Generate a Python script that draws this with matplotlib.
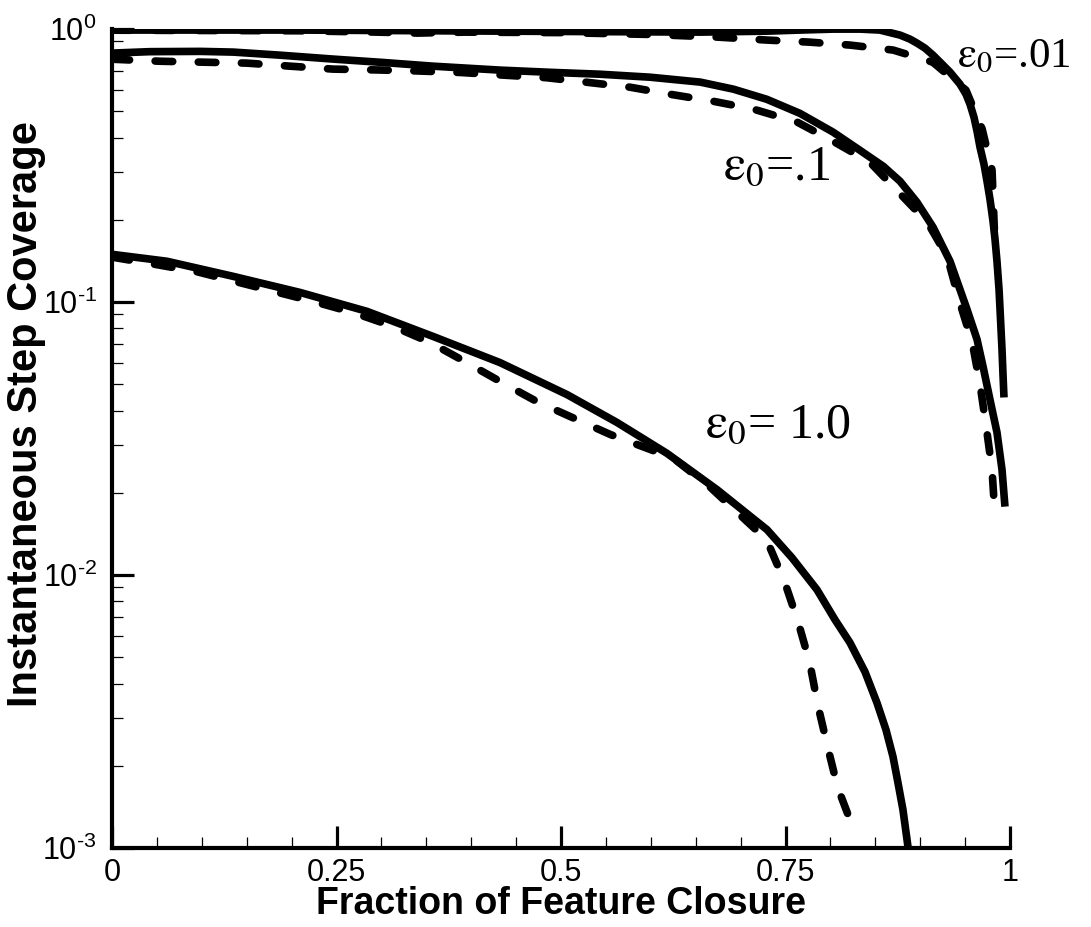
import matplotlib
matplotlib.use("Agg")
import matplotlib.pyplot as plt
from matplotlib.ticker import FixedLocator, FixedFormatter, NullFormatter
import numpy as np

plt.rcParams['font.family'] = ['Liberation Sans', 'DejaVu Sans']
plt.rcParams['mathtext.fontset'] = 'custom'
plt.rcParams['mathtext.rm'] = 'Liberation Sans'
plt.rcParams['mathtext.it'] = 'Liberation Sans:italic'
plt.rcParams['mathtext.bf'] = 'Liberation Sans:bold'

# --- data: instantaneous step coverage vs. fraction of feature closure ---
# eps0 = 0.01
x_s001 = [0.0, 0.209, 0.432, 0.543, 0.655, 0.729, 0.766, 0.803, 0.833, 0.855, 0.8775,
          0.8886, 0.8964, 0.9053, 0.9143, 0.9232, 0.9332, 0.9443, 0.951, 0.9555,
          0.9599, 0.9633, 0.9666, 0.971, 0.9744, 0.9777, 0.9811, 0.9833, 0.9855,
          0.9878, 0.9889, 0.9911, 0.9922, 0.9933]
y_s001 = [0.991, 0.991, 0.982, 0.978, 0.974, 0.982, 0.991, 0.999, 0.999, 0.991, 0.950,
          0.918, 0.888, 0.851, 0.802, 0.750, 0.695, 0.628, 0.577, 0.530,
          0.475, 0.422, 0.369, 0.320, 0.277, 0.238, 0.1975, 0.170, 0.141,
          0.111, 0.094, 0.067, 0.0543, 0.0447]
x_d001 = [0.0, 0.209, 0.295, 0.340, 0.393, 0.50, 0.60, 0.674, 0.729, 0.777, 0.822,
          0.870, 0.914, 0.951, 0.969, 0.980, 0.983]
y_d001 = [0.99, 0.985, 0.974, 0.966, 0.974, 0.97, 0.955, 0.934, 0.911, 0.895, 0.873,
          0.837, 0.756, 0.597, 0.43, 0.304, 0.17]

# eps0 = 0.1
x_s01 = [0.0, 0.042, 0.098, 0.135, 0.187, 0.246, 0.302, 0.357, 0.432, 0.488, 0.543,
         0.599, 0.655, 0.692, 0.729, 0.766, 0.803, 0.831, 0.859, 0.8775, 0.8964,
         0.9143, 0.9332, 0.9521, 0.9633, 0.970, 0.9777, 0.9855, 0.9911, 0.9944]
y_s01 = [0.816, 0.826, 0.828, 0.823, 0.802, 0.776, 0.754, 0.731, 0.707, 0.694, 0.683,
         0.666, 0.639, 0.602, 0.553, 0.491, 0.419, 0.363, 0.314, 0.277, 0.232,
         0.188, 0.141, 0.094, 0.0729, 0.0580, 0.0439, 0.0333, 0.0243, 0.0178]
x_d01 = [0.0, 0.053, 0.101, 0.150, 0.198, 0.246, 0.295, 0.340, 0.388, 0.435, 0.484,
         0.529, 0.577, 0.621, 0.669, 0.714, 0.763, 0.803, 0.844, 0.908, 0.930, 0.944,
         0.958, 0.967, 0.974, 0.980, 0.983]
y_d01 = [0.775, 0.762, 0.756, 0.750, 0.731, 0.713, 0.708, 0.702, 0.693, 0.678, 0.663,
         0.638, 0.612, 0.577, 0.544, 0.509, 0.456, 0.388, 0.325, 0.196, 0.147, 0.0998,
         0.071, 0.049, 0.034, 0.0243, 0.0169]

# eps0 = 1.0
x_s1 = [0.0, 0.0612, 0.1347, 0.2094, 0.284, 0.3575, 0.432, 0.5067, 0.5624, 0.618,
        0.6737, 0.7294, 0.7572, 0.785, 0.8051, 0.8218, 0.8385, 0.8519, 0.8619,
        0.8697, 0.8753, 0.8808, 0.8864]
y_s1 = [0.1495, 0.141, 0.1242, 0.1084, 0.0924, 0.0748, 0.0600, 0.0458, 0.0362, 0.0279,
        0.02055, 0.01466, 0.01157, 0.00884, 0.00686, 0.00565, 0.00442, 0.00340, 0.00271,
        0.00216, 0.00173, 0.00138, 0.00101]
x_d1 = [0.0, 0.050, 0.095, 0.224, 0.268, 0.313, 0.354, 0.395, 0.432, 0.473, 0.513,
        0.555, 0.625, 0.666, 0.729, 0.749, 0.764, 0.777, 0.786, 0.797, 0.808, 0.825]
y_d1 = [0.146, 0.137, 0.129, 0.1005, 0.0916, 0.0814, 0.0712, 0.060, 0.0512, 0.0432,
        0.0377, 0.0327, 0.0268, 0.0210, 0.01346, 0.00944, 0.00674, 0.00477, 0.00334,
        0.00234, 0.00167, 0.00119]

x_ticks = [0, 0.25, 0.5, 0.75, 1]
x_ticklabels = ['0', '0.25', '0.5', '0.75', '1']
y_ticks = [1e-3, 1e-2, 1e-1, 1e0]
y_ticklabels = [r'$10^{\text{-}3}$', r'$10^{\text{-}2}$', r'$10^{\text{-}1}$',
                r'$10^{0}$']

labels = [r'$\mathrm{\varepsilon}_0$=.01', r'$\mathrm{\varepsilon}_0$=.1',
          r'$\mathrm{\varepsilon}_0$= 1.0']

fig = plt.figure(figsize=(10.91, 9.27), dpi=100)
ax = fig.add_axes([112 / 1091, 79 / 927, 898 / 1091, 819 / 927])

lw = 5.5
dash = (0, (2.3, 3.35))
for xs, ys in [(x_s001, y_s001), (x_s01, y_s01), (x_s1, y_s1)]:
    ax.plot(xs, ys, color='black', lw=lw, solid_capstyle='butt',
            solid_joinstyle='round')
for xs, ys in [(x_d001, y_d001), (x_d01, y_d01), (x_d1, y_d1)]:
    ax.plot(xs, ys, color='black', lw=lw, linestyle=dash,
            dash_capstyle='round', dash_joinstyle='round')

ax.set_yscale('log')
ax.set_xlim(0, 1)
ax.set_ylim(1e-3, 1)

ax.xaxis.set_major_locator(FixedLocator(x_ticks))
ax.xaxis.set_major_formatter(FixedFormatter(x_ticklabels))
ax.xaxis.set_minor_locator(FixedLocator(np.arange(0, 1.0001, 0.05)))
ax.yaxis.set_major_locator(FixedLocator(y_ticks))
ax.yaxis.set_major_formatter(FixedFormatter(y_ticklabels))
minor_y = [m * 10.0 ** e for e in (-3, -2, -1) for m in range(2, 10)]
ax.yaxis.set_minor_locator(FixedLocator(minor_y))
ax.yaxis.set_minor_formatter(NullFormatter())

for side in ('top', 'right'):
    ax.spines[side].set_visible(False)
for side in ('left', 'bottom'):
    ax.spines[side].set_linewidth(3.0)
    ax.spines[side].set_capstyle('projecting')

ax.tick_params(which='major', direction='in', length=16, width=2.3,
               labelsize=22, top=False, right=False)
ax.tick_params(axis='x', which='major', pad=7)
ax.tick_params(axis='y', which='major', pad=11)
ax.tick_params(which='minor', direction='in', length=8, width=0.9,
               top=False, right=False)

ax.set_xlabel('Fraction of Feature Closure', fontsize=27, fontweight='bold')
ax.xaxis.set_label_coords(0.5, -0.046)
ax.set_ylabel('Instantaneous Step Coverage', fontsize=30, fontweight='bold')
ax.yaxis.set_label_coords(-0.073, 0.53)

ax.text(0.941, 0.724, labels[0], fontsize=31, family='Liberation Serif',
        math_fontfamily='stix', ha='left', va='baseline', clip_on=False)
ax.text(0.680, 0.282, labels[1], fontsize=36, family='Liberation Serif',
        math_fontfamily='stix', ha='left', va='baseline')
ax.text(0.660, 0.0318, labels[2], fontsize=36, family='Liberation Serif',
        math_fontfamily='stix', ha='left', va='baseline')

fig.savefig('out.png', dpi=100)
